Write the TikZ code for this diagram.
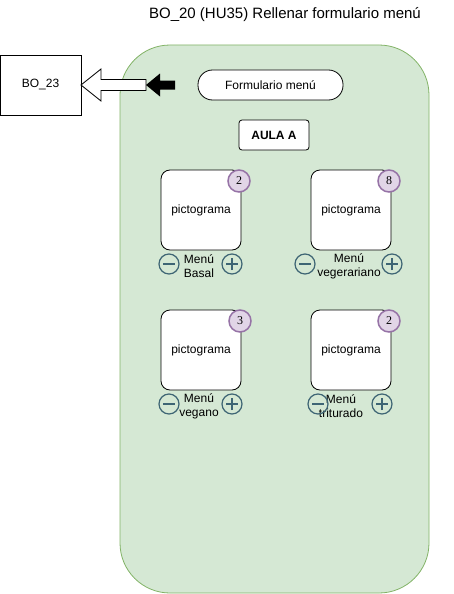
\documentclass[tikz,border=0pt]{standalone}
\usepackage{fontspec}
\setmainfont{Liberation Sans}
\newfontfamily\serifnum{Liberation Serif}
\definecolor{grfill}{HTML}{D5E8D4}
\definecolor{grline}{HTML}{82B366}
\definecolor{pufill}{HTML}{E1D5E7}
\definecolor{puline}{HTML}{9673A6}
\definecolor{icline}{HTML}{3E6574}
\begin{document}
\begin{tikzpicture}[x=1pt,y=-1pt,
  every node/.style={font=\fontsize{12}{14}\selectfont, text=black},
  picto/.style={draw, fill=white, rounded corners=9pt, minimum width=80pt, minimum height=80pt, line width=0.8pt},
  badge/.style={circle, draw=puline, fill=pufill, line width=1.5pt, minimum size=22pt, inner sep=0pt, font=\serifnum\fontsize{12}{14}\selectfont},
  icon/.style={circle, draw=icline, line width=1.2pt, minimum size=20pt, inner sep=0pt},
  lbl/.style={align=center, inner sep=0pt, font=\fontsize{12}{14}\selectfont}]
\useasboundingbox (0,0) rectangle (453,594);
\node[font=\fontsize{15}{18}\selectfont] (title) at (285,15) {BO\_20 (HU35) Rellenar formulario menú};
\draw[fill=grfill, draw=grline, line width=0.8pt, rounded corners=50pt] (120,45) rectangle (429,593);
\node[draw, fill=white, minimum width=81pt, minimum height=60pt, line width=0.8pt] (bo23) at (40.5,85) {BO\_23};
% hollow arrow
\coordinate (ha) at (81,85);
\draw[fill=white, line width=0.8pt] (ha) -- (101,69) -- (101,79.5) -- (146,79.5) -- (146,90.5) -- (101,90.5) -- (101,101) -- cycle;
% black arrow
\coordinate (ba) at (146,85);
\fill (ba) -- (160,73.5) -- (160,80.5) -- (175,80.5) -- (175,89.5) -- (160,89.5) -- (160,96.5) -- cycle;
\node[draw, fill=white, rounded corners=14.5pt, minimum width=145pt, minimum height=30pt, line width=0.8pt] (form) at (270.5,85) {Formulario menú};
\node[draw, fill=white, rounded corners=3pt, minimum width=70pt, minimum height=30pt, line width=0.8pt, font=\bfseries\fontsize{12}{14}\selectfont] (aula) at (274,135) {AULA A};
% pictograms
\node[picto] (p1) at (201,210) {pictograma};
\node[picto] (p2) at (351,210) {pictograma};
\node[picto] (p3) at (201,350) {pictograma};
\node[picto] (p4) at (351,350) {pictograma};
\node[badge] (b1) at (239,181) {2};
\node[badge] (b2) at (389,181) {8};
\node[badge] (b3) at (240,321) {3};
\node[badge] (b4) at (389,321) {2};
% labels
\node[lbl] (l1) at (199,266) {Menú\\Basal};
\node[lbl] (l2) at (349,266) {Menú\\vegerariano};
\node[lbl] (l3) at (199,406) {Menú\\vegano};
\node[lbl] (l4) at (341,406) {Menú\\triturado};
% icons
\foreach \n/\x/\y in {m1/169/264, m2/305/264, m3/169/404, m4/318/404}{
  \node[icon] (\n) at (\x,\y) {};
  \draw[icline, line width=1.2pt] ([xshift=-6pt]\n.center) -- ([xshift=6pt]\n.center);
}
\foreach \n/\x/\y in {a1/232/264, a2/392/264, a3/232/404, a4/382/404}{
  \node[icon] (\n) at (\x,\y) {};
  \draw[icline, line width=1.2pt] ([xshift=-6pt]\n.center) -- ([xshift=6pt]\n.center);
  \draw[icline, line width=1.2pt] ([yshift=-6pt]\n.center) -- ([yshift=6pt]\n.center);
}
\end{tikzpicture}
\end{document}
